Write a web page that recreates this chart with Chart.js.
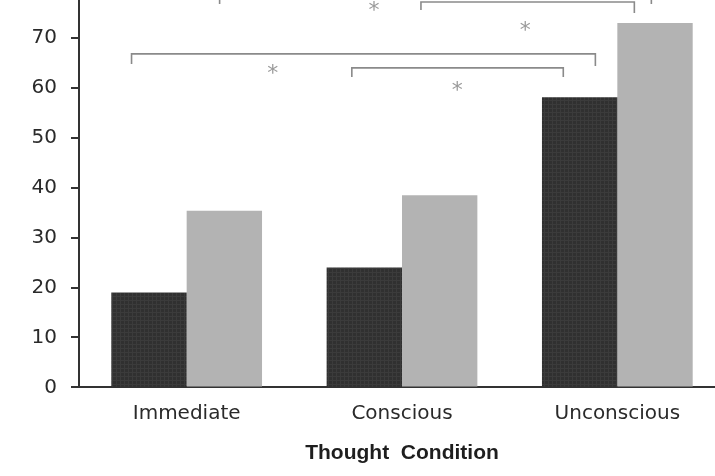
<!DOCTYPE html>
<html>
<head>
<meta charset="utf-8">
<script src="https://cdn.jsdelivr.net/npm/chart.js@4/dist/chart.umd.min.js"></script>
<style>
  html, body { margin: 0; padding: 0; background: #fff; overflow: hidden; }
  #wrap { width: 715px; height: 476px; overflow: hidden; }
</style>
</head>
<body>
<div id="wrap"><canvas id="grafico" width="725" height="476"></canvas></div>
<script>
// categorias y valores
const condiciones = ["Immediate", "Conscious", "Unconscious"];
const serieOscura = [19.0, 24.0, 58.1];
const serieClara = [35.4, 38.5, 73.0];
const marcasY = [0, 10, 20, 30, 40, 50, 60, 70];

// corchetes de significancia: [desde, hasta, nivel, punta izq, punta der] (indice de categoria / valor)
const corchetes = [
    [-0.256, 1.898, 66.8, 64.8, 64.4],
    [0.767, 1.749, 64.0, 62.2, 62.2],
    [1.088, 2.079, 77.2, 75.6, 75.0],
    [0.153, 2.158, 79.5, 76.8, 76.8],
];
// asteriscos: [indice de categoria, valor]
const asteriscos = [
    [0.40, 63.8],
    [1.256, 60.4],
    [0.870, 76.4],
    [1.572, 72.4],
];

// textura suave de las barras oscuras
function trama() {
    const c = document.createElement("canvas");
    c.width = 4;
    c.height = 4;
    const g = c.getContext("2d");
    g.fillStyle = "#303030";
    g.fillRect(0, 0, 4, 4);
    g.fillStyle = "#3b3b3b";
    g.fillRect(0, 0, 1, 4);
    g.fillRect(0, 0, 4, 1);
    return g.createPattern(c, "repeat");
}

const anotaciones = {
    id: "anotaciones",
    afterDatasetsDraw(chart) {
        const { ctx, scales } = chart;
        const x = scales.x, y = scales.y;
        ctx.save();
        ctx.strokeStyle = "#8a8a8a";
        ctx.lineWidth = 1.6;
        corchetes.forEach(([a, b, nivel, pa, pb]) => {
            const x1 = x.getPixelForValue(a), x2 = x.getPixelForValue(b);
            ctx.beginPath();
            ctx.moveTo(x1, y.getPixelForValue(pa));
            ctx.lineTo(x1, y.getPixelForValue(nivel));
            ctx.lineTo(x2, y.getPixelForValue(nivel));
            ctx.lineTo(x2, y.getPixelForValue(pb));
            ctx.stroke();
        });
        ctx.fillStyle = "#9a9a9a";
        ctx.font = "22px 'DejaVu Sans'";
        ctx.textAlign = "center";
        ctx.textBaseline = "alphabetic";
        asteriscos.forEach(([i, v]) => {
            const m = ctx.measureText("*");
            const alto = m.actualBoundingBoxAscent - m.actualBoundingBoxDescent;
            ctx.fillText("*", x.getPixelForValue(i), y.getPixelForValue(v) + alto / 2);
        });
        ctx.restore();
    },
};

new Chart(document.querySelector("#grafico").getContext("2d"), {
    type: "bar",
    data: {
        labels: condiciones,
        datasets: [
            { data: serieOscura, backgroundColor: trama(), borderWidth: 0 },
            { data: serieClara, backgroundColor: "#b3b3b3", borderWidth: 0 },
        ],
    },
    options: {
        responsive: false,
        animation: false,
        events: [],
        layout: { padding: 0 },
        plugins: {
            legend: { display: false },
            tooltip: { enabled: false },
        },
        datasets: {
            bar: { categoryPercentage: 0.7, barPercentage: 1.0 },
        },
        scales: {
            x: {
                grid: { display: true, drawOnChartArea: false, drawTicks: false },
                border: { display: true, color: "#333", width: 2 },
                ticks: {
                    padding: 14.5,
                    color: "#2a2a2a",
                    font: { family: "'DejaVu Sans'", size: 20 },
                    maxRotation: 0,
                },
                title: {
                    display: true,
                    text: "Thought  Condition",
                    color: "#1e1e1e",
                    font: { family: "'Liberation Sans'", size: 21, weight: "bold" },
                    padding: { top: 0, bottom: 10.4 },
                },
                afterFit(scale) {
                    scale.paddingLeft = 0;
                    scale.paddingRight = 0;
                },
            },
            y: {
                min: 0,
                max: 77.6,
                grid: { drawOnChartArea: false, tickLength: 8, color: "#333", lineWidth: 2 },
                border: { color: "#333", width: 2 },
                ticks: {
                    stepSize: 10,
                    padding: 14,
                    color: "#2a2a2a",
                    font: { family: "'DejaVu Sans'", size: 20 },
                },
                afterBuildTicks(scale) {
                    scale.ticks = marcasY.map((v) => ({ value: v }));
                },
                afterFit(scale) {
                    scale.width = 79;
                    scale.paddingTop = 0;
                    scale.paddingBottom = 0;
                },
            },
        },
    },
    plugins: [anotaciones],
});
</script>
</body>
</html>
